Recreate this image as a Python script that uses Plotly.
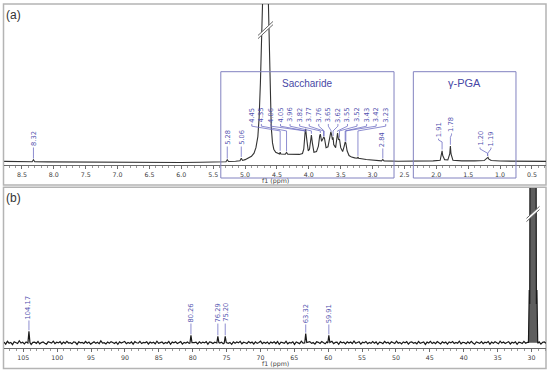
import numpy as np
import plotly.graph_objects as go

# ---------------- (a) 1H NMR spectrum ----------------
h_ppm = [8.78, 8.60, 8.40, 8.34, 8.32, 8.30, 8.10, 7.80, 7.50, 7.20,
         6.90, 6.60, 6.30, 6.00, 5.70, 5.45, 5.30, 5.28, 5.26, 5.15,
         5.08, 5.06, 5.04, 5.00, 4.95, 4.90, 4.86, 4.83, 4.80, 4.78,
         4.76, 4.745, 4.73, 4.70, 4.68, 4.66, 4.64, 4.625, 4.61, 4.59,
         4.57, 4.55, 4.52, 4.48, 4.46, 4.45, 4.44, 4.37, 4.35, 4.33,
         4.25, 4.15, 4.10, 4.08, 4.06, 4.05, 4.035, 4.01, 3.99, 3.97,
         3.96, 3.945, 3.92, 3.88, 3.85, 3.83, 3.82, 3.80, 3.78, 3.765,
         3.755, 3.73, 3.70, 3.67, 3.655, 3.645, 3.63, 3.62, 3.61, 3.58,
         3.56, 3.55, 3.535, 3.52, 3.50, 3.47, 3.445, 3.43, 3.42, 3.40,
         3.37, 3.33, 3.28, 3.24, 3.23, 3.22, 3.10, 3.00, 2.86, 2.84,
         2.82, 2.60, 2.30, 2.05, 1.94, 1.92, 1.91, 1.90, 1.87, 1.82,
         1.79, 1.78, 1.77, 1.74, 1.60, 1.40, 1.25, 1.21, 1.20, 1.19,
         1.18, 1.14, 1.00, 0.70, 0.28]
h_int = [0.3, 0.2, 0.1, 0.1, 1.3, 0.1, 0.0, -0.1, -0.2, -0.3,
         -0.4, -0.5, -0.5, -0.4, -0.3, -0.1, 0.1, 1.3, 0.2, 0.4,
         0.7, 2.3, 0.9, 1.4, 2.2, 3.5, 5.5, 9.0, 16.0, 28.0,
         50.0, 80.0, 110.0, 150.0, 170.0, 150.0, 110.0, 80.0, 45.0, 22.0,
         12.0, 8.0, 6.0, 5.2, 5.0, 6.2, 5.0, 4.8, 6.0, 4.8,
         4.6, 4.7, 5.3, 8.0, 18.0, 21.0, 15.0, 7.0, 8.0, 15.0,
         17.0, 12.0, 6.0, 6.5, 10.0, 16.5, 17.5, 13.0, 14.5, 15.7,
         15.0, 9.0, 9.5, 15.0, 19.0, 17.5, 14.0, 15.5, 11.0, 9.0,
         16.0, 18.3, 14.0, 14.5, 9.0, 6.5, 10.0, 12.6, 12.0, 7.0,
         4.0, 3.0, 2.5, 2.3, 3.0, 2.2, 1.5, 1.0, 0.6, 1.4,
         0.6, 0.4, 0.4, 0.6, 1.0, 4.0, 7.0, 4.0, 1.4, 1.2,
         5.0, 10.0, 5.0, 1.0, 0.6, 0.6, 0.8, 2.2, 3.0, 2.8,
         1.8, 0.8, 0.5, 0.3, 0.3]

h_single_labels = ["8.32", "5.28", "5.06", "2.84"]
sacch_labels = ["4.45", "4.35", "4.06", "4.05", "3.96", "3.82", "3.77", "3.76",
                "3.65", "3.62", "3.55", "3.52", "3.43", "3.42", "3.23"]
pga_labels = ["1.91", "1.78", "1.20", "1.19"]
a_tick_labels = ["8.5", "8.0", "7.5", "7.0", "6.5", "6.0", "5.5", "5.0", "4.5",
                 "4.0", "3.5", "3.0", "2.5", "2.0", "1.5", "1.0", "0.5"]

# ---------------- (b) 13C NMR spectrum ----------------
c_noise = [0.4, -0.9, 0.9, -0.3, 0.2, -1.2, 0.6, 0.1, -0.5, 1.3, -0.2, 0.3, -0.8, 0.5, -0.1, 0.7, -1.1, 0.2, 0.4, -0.4,
           0.8, -0.7, 0.1, 0.5, -0.3, -0.9, 0.6, 0.2, -0.2, 1.0, -0.6, 0.3, -0.1, 0.7, -0.8, 0.4, -0.4, 0.9, -0.2, 0.1,
           -0.7, 0.5, 0.3, -1.1, 0.6, -0.1, 0.2, -0.5, 0.8, -0.3, 0.4, -0.9, 0.1, 0.6, -0.4, 0.3, -0.6, 1.2, -0.2, 0.0,
           -0.8, 0.5, -0.3, 0.7, 0.1, -0.5, 0.4, -1.0, 0.6, -0.2, 0.3, 0.8, -0.6, 0.2, -0.4, 0.5, -0.9, 0.7, 0.0, -0.3,
           0.9, -0.5, 0.2, -0.1, 0.6, -0.8, 0.4, -0.2, 0.3, -0.7, 1.0, -0.4, 0.1, 0.5, -0.6, 0.2, -0.3, 0.8, -1.0, 0.4,
           -0.1, 0.6, -0.5, 0.3, 0.7, -0.9, 0.2, -0.2, 0.5, -0.4, 0.9, -0.6, 0.1, 0.3, -0.8, 0.6, -0.3, 0.4, -0.1, 0.7,
           -0.9, 0.5, 0.2, -0.5, 0.3, -0.7, 1.1, -0.2, 0.4, -0.6, 0.1, 0.8, -0.4, 0.2, -1.0, 0.6, -0.3, 0.5, -0.1, 0.9,
           -0.7, 0.3, 0.0, -0.5, 0.7, -0.2, 0.4, -0.8, 0.6, -0.4, 0.2, 1.0, -0.6, 0.3, -0.3, 0.5, -0.7, 0.4, -0.2, 0.6,
           -0.5, 0.8, -1.0, 0.3, 0.1, -0.4, 0.9, -0.7, 0.2, -0.2, 0.6, -1.1, 0.5, 0.0, -0.6, 1.0, -0.3, 0.4, -0.8, 0.2,
           0.7, -0.4, 0.1, -0.9, 0.6, 0.3, -0.5, 0.8, -0.2, -0.7, 0.5, 0.1, -0.3, 0.9, -0.6, 0.2, 0.4, -1.0, 0.7, -0.1,
           0.3, -0.8, 0.6, -0.2, 0.5, -0.5, 1.1, -0.4, 0.0, 0.6, -0.9, 0.3, -0.1, 0.8, -0.6, 0.2, -0.4, 0.7, -0.3, 0.5,
           -1.0, 0.4, 0.1, -0.6, 0.9, -0.2, 0.3, -0.7, 0.6, 0.0, -0.5, 1.0, -0.3, 0.2, -0.8, 0.5, -0.1, 0.7, -0.9, 0.3,
           0.6, -0.3, 0.2, -0.7, 0.8, -0.4, 0.1, 0.5, -1.1, 0.4, -0.2, 0.9, -0.5, 0.3, -0.6, 0.7, 0.0, -0.8, 0.6, -0.2,
           0.4, -0.9, 0.5, -0.1, 0.8, -0.5, 0.2, -0.3, 1.0, -0.7, 0.3, 0.1, -0.6, 0.6, -0.4, 0.9, -0.2, -1.0, 0.5, 0.2,
           -0.4, 0.7, -0.6, 0.3, 0.0, 0.8, -0.9, 0.4, -0.3, 0.6, -0.1, -0.7, 1.0, -0.2, 0.5, -0.5, 0.2, 0.7, -0.8, 0.3,
           -0.2, 0.6, -1.0, 0.4, 0.1, -0.5, 0.9, -0.3, 0.2, -0.7, 0.5, 0.8, -0.6, 0.0, -0.4, 0.6, -0.9, 0.3, 0.5, -0.3]
c_peak_labels = ["104.17", "80.26", "76.29", "75.20", "63.32", "59.91"]
c_peak_int = [7.4, 4.8, 4.2, 4.2, 5.9, 4.8]
solv_ppm = [30.45, 30.33, 30.26, 30.16, 29.40, 29.28, 29.20, 29.08]
solv_int = [0.2, 34.0, 25.0, 300.0, 300.0, 25.0, 34.0, -0.3]
b_tick_labels = ["105", "100", "95", "90", "85", "80", "75", "70", "65", "60",
                 "55", "50", "45", "40", "35", "30"]

# ---------------- layout geometry ----------------
W, H = 550, 372
XDOM = [4 / W, 546 / W]
A_XR = [8.782, 0.280]
A_YR = [-2.0, 100.0]
A_YDOM = [1 - 165 / H, 1 - 4 / H]
B_XR = [107.85, 27.86]
B_YR = [-3.6, 100.0]
B_YDOM = [1 - 348.3 / H, 1 - 188 / H]

def px_units(xr, yr, ydom):
    dx = abs(xr[0] - xr[1]) / (542.0)
    dy = (yr[1] - yr[0]) / ((ydom[1] - ydom[0]) * H)
    return dx, dy

A_DX, A_DY = px_units(A_XR, A_YR, A_YDOM)
B_DX, B_DY = px_units(B_XR, B_YR, B_YDOM)

SPEC_A = "#333333"
SPEC_B = "#1a1a1a"
LAB = "#5050ae"
LAB_LINE = "#7070c4"
BOX = "#8282c0"
FRAME = "#b4b4b4"
AX = "#6a6a6a"

fig = go.Figure()

# spectrum (a)
fig.add_trace(go.Scatter(x=h_ppm, y=h_int, mode="lines", line=dict(color=SPEC_A, width=1.1),
                         xaxis="x", yaxis="y", hoverinfo="skip", showlegend=False))

# spectrum (b): noisy baseline + peaks + solvent septet
grid = np.linspace(B_XR[0], B_XR[1], len(c_noise))
c_peak_ppm = [float(s) for s in c_peak_labels]
pts = []
for g, n in zip(grid, c_noise):
    if any(abs(g - p) < 0.25 for p in c_peak_ppm):
        continue
    if solv_ppm[-1] - 0.1 < g < solv_ppm[0] + 0.1:
        continue
    pts.append((g, n))
for p, h in zip(c_peak_ppm, c_peak_int):
    pts += [(p + 0.15, -0.2), (p, h), (p - 0.15, 0.1)]
pts += list(zip(solv_ppm, solv_int))
pts.sort(key=lambda t: -t[0])
fig.add_trace(go.Scatter(x=solv_ppm, y=solv_int, mode="lines", fill="tozeroy",
                         fillcolor="#5e5e5e", line=dict(width=0, color="#5e5e5e"),
                         xaxis="x2", yaxis="y2", hoverinfo="skip", showlegend=False))
fig.add_trace(go.Scatter(x=[t[0] for t in pts], y=[t[1] for t in pts], mode="lines",
                         line=dict(color=SPEC_B, width=1.2),
                         xaxis="x2", yaxis="y2", hoverinfo="skip", showlegend=False))

annotations = []
shapes = []
conn_a = ([], [])
conn_b = ([], [])

def label(xref, yref, x, y, text):
    annotations.append(dict(x=x, y=y, xref=xref, yref=yref, text=text, textangle=-90,
                            showarrow=False, xanchor="center", yanchor="bottom", borderpad=0,
                            font=dict(family="DejaVu Sans", size=6.7, color=LAB)))

def connector(store, xs, ys):
    store[0].extend(xs + [None])
    store[1].extend(ys + [None])

hp_rev = h_ppm[::-1]
hi_rev = h_int[::-1]
def htop(p):
    return float(np.interp(p, hp_rev, hi_rev))

# single 1H labels
single_base = [9.4, 10.0, 10.0, 8.8]
for s, base in zip(h_single_labels, single_base):
    p = float(s)
    label("x", "y", p, base, s)
    connector(conn_a, [p, p], [base - 0.3, htop(p) + 0.8])

# saccharide fan
fan_x = np.linspace(4.895, 2.794, len(sacch_labels))
for s, lx in zip(sacch_labels, fan_x):
    p = float(s)
    label("x", "y", lx, 24.3, s)
    top = htop(p) + 0.8
    ys = [24.0, 22.6, 19.6, min(top, 19.6)]
    connector(conn_a, [lx, lx, p, p], ys)

# gamma-PGA
pga_lx = [1.965, 1.762, 1.315, 1.143]
pga_base = [15.0, 18.3, 9.4, 9.4]
pga_k2 = [12.6, 15.5, 5.4, 5.4]
for s, lx, base, k2 in zip(pga_labels, pga_lx, pga_base, pga_k2):
    p = float(s)
    pm = 1.195 if p in (1.20, 1.19) else p
    connector(conn_a, [lx, lx, pm, pm], [base - 0.3, base - 1.2, k2, htop(pm) + 0.8])
    label("x", "y", lx, base, s)

# 13C labels
c_base = [14.7, 12.7, 12.7, 12.7, 12.1, 12.1]
for s, h, base in zip(c_peak_labels, c_peak_int, c_base):
    p = float(s)
    label("x2", "y2", p, base, s)
    connector(conn_b, [p, p], [base - 0.3, h + 0.6])

fig.add_trace(go.Scatter(x=conn_a[0], y=conn_a[1], mode="lines", line=dict(color=LAB_LINE, width=0.8),
                         xaxis="x", yaxis="y", hoverinfo="skip", showlegend=False, connectgaps=False))
fig.add_trace(go.Scatter(x=conn_b[0], y=conn_b[1], mode="lines", line=dict(color=LAB_LINE, width=0.8),
                         xaxis="x2", yaxis="y2", hoverinfo="skip", showlegend=False, connectgaps=False))

# break marks on the off-scale peaks
def break_mark(xref, yref, cx, cy, dx, dy, hw, hh):
    x_l, x_r = cx + hw * dx, cx - hw * dx
    y_l, y_r = cy - hh * dy, cy + hh * dy
    off = 1.6 * dy
    shapes.append(dict(type="path", xref=xref, yref=yref, layer="above",
                       path=f"M{x_l},{y_l - off} L{x_r},{y_r - off} L{x_r},{y_r + off} L{x_l},{y_l + off} Z",
                       fillcolor="white", line=dict(width=0)))
    for o in (-off, off):
        shapes.append(dict(type="line", xref=xref, yref=yref, layer="above",
                           x0=x_l, y0=y_l + o, x1=x_r, y1=y_r + o, line=dict(color="#666", width=1)))

break_mark("x", "y", 4.68, 83.5, A_DX, A_DY, 7.5, 7)
break_mark("x2", "y2", 29.78, 83.2, B_DX, B_DY, 6.5, 6)

# region boxes
def region_box(x0, x1, text, size):
    shapes.append(dict(type="rect", xref="x", yref="paper", x0=x0, x1=x1,
                       y0=1 - 178 / H, y1=1 - 71.7 / H, line=dict(color=BOX, width=1), layer="above"))
    annotations.append(dict(x=(x0 + x1) / 2, y=1 - 83 / H, xref="x", yref="paper", text=text,
                            showarrow=False, xanchor="center", yanchor="middle",
                            font=dict(family="Liberation Sans", size=size, color="#4848a6")))

region_box(5.381, 2.664, "Saccharide", 10)
region_box(2.361, 0.751, "γ-PGA", 11)

# panel frames
for y0, y1 in ((185, 4), (368.5, 187.3)):
    shapes.append(dict(type="rect", xref="paper", yref="paper", x0=3.5 / W, x1=546 / W,
                       y0=1 - y0 / H, y1=1 - y1 / H, line=dict(color=FRAME, width=1.5), layer="below"))

# panel letters and axis titles
for txt, yy in (("(a)", 15), ("(b)", 198)):
    annotations.append(dict(x=13 / W, y=1 - yy / H, xref="paper", yref="paper", text=txt,
                            showarrow=False, xanchor="center", yanchor="middle",
                            font=dict(family="Liberation Sans", size=12, color="#333")))
for yy in (180.5, 363.5):
    annotations.append(dict(x=0.5, y=1 - yy / H, xref="paper", yref="paper", text="f1 (ppm)",
                            showarrow=False, xanchor="center", yanchor="middle",
                            font=dict(family="DejaVu Sans", size=6.3, color="#444")))

a_ticks = [float(t) for t in a_tick_labels]
b_ticks = [float(t) for t in b_tick_labels]
xcommon = dict(showline=True, linecolor=AX, linewidth=1, ticks="outside", ticklen=3, tickwidth=1,
               tickcolor=AX, showgrid=False, zeroline=False, fixedrange=True,
               tickfont=dict(family="DejaVu Sans", size=6.3, color="#3c3c3c"))

fig.update_layout(
    width=W, height=H, margin=dict(l=0, r=0, t=0, b=0),
    paper_bgcolor="white", plot_bgcolor="white", showlegend=False,
    xaxis=dict(domain=XDOM, range=A_XR, anchor="y", tickmode="array", tickvals=a_ticks,
               ticktext=a_tick_labels,
               minor=dict(ticks="outside", ticklen=2, tickcolor="#999", dtick=0.1, tick0=0, showgrid=False),
               **xcommon),
    yaxis=dict(domain=A_YDOM, range=A_YR, visible=False, fixedrange=True, anchor="x"),
    xaxis2=dict(domain=XDOM, range=B_XR, anchor="y2", tickmode="array", tickvals=b_ticks,
                ticktext=b_tick_labels,
                minor=dict(ticks="outside", ticklen=2, tickcolor="#999", dtick=1, tick0=0, showgrid=False),
                **xcommon),
    yaxis2=dict(domain=B_YDOM, range=B_YR, visible=False, fixedrange=True, anchor="x2"),
    annotations=annotations, shapes=shapes,
)

fig.write_html("out.html", config={"displayModeBar": False},
               post_script="document.body.style.margin='0';document.body.style.overflow='hidden';")
